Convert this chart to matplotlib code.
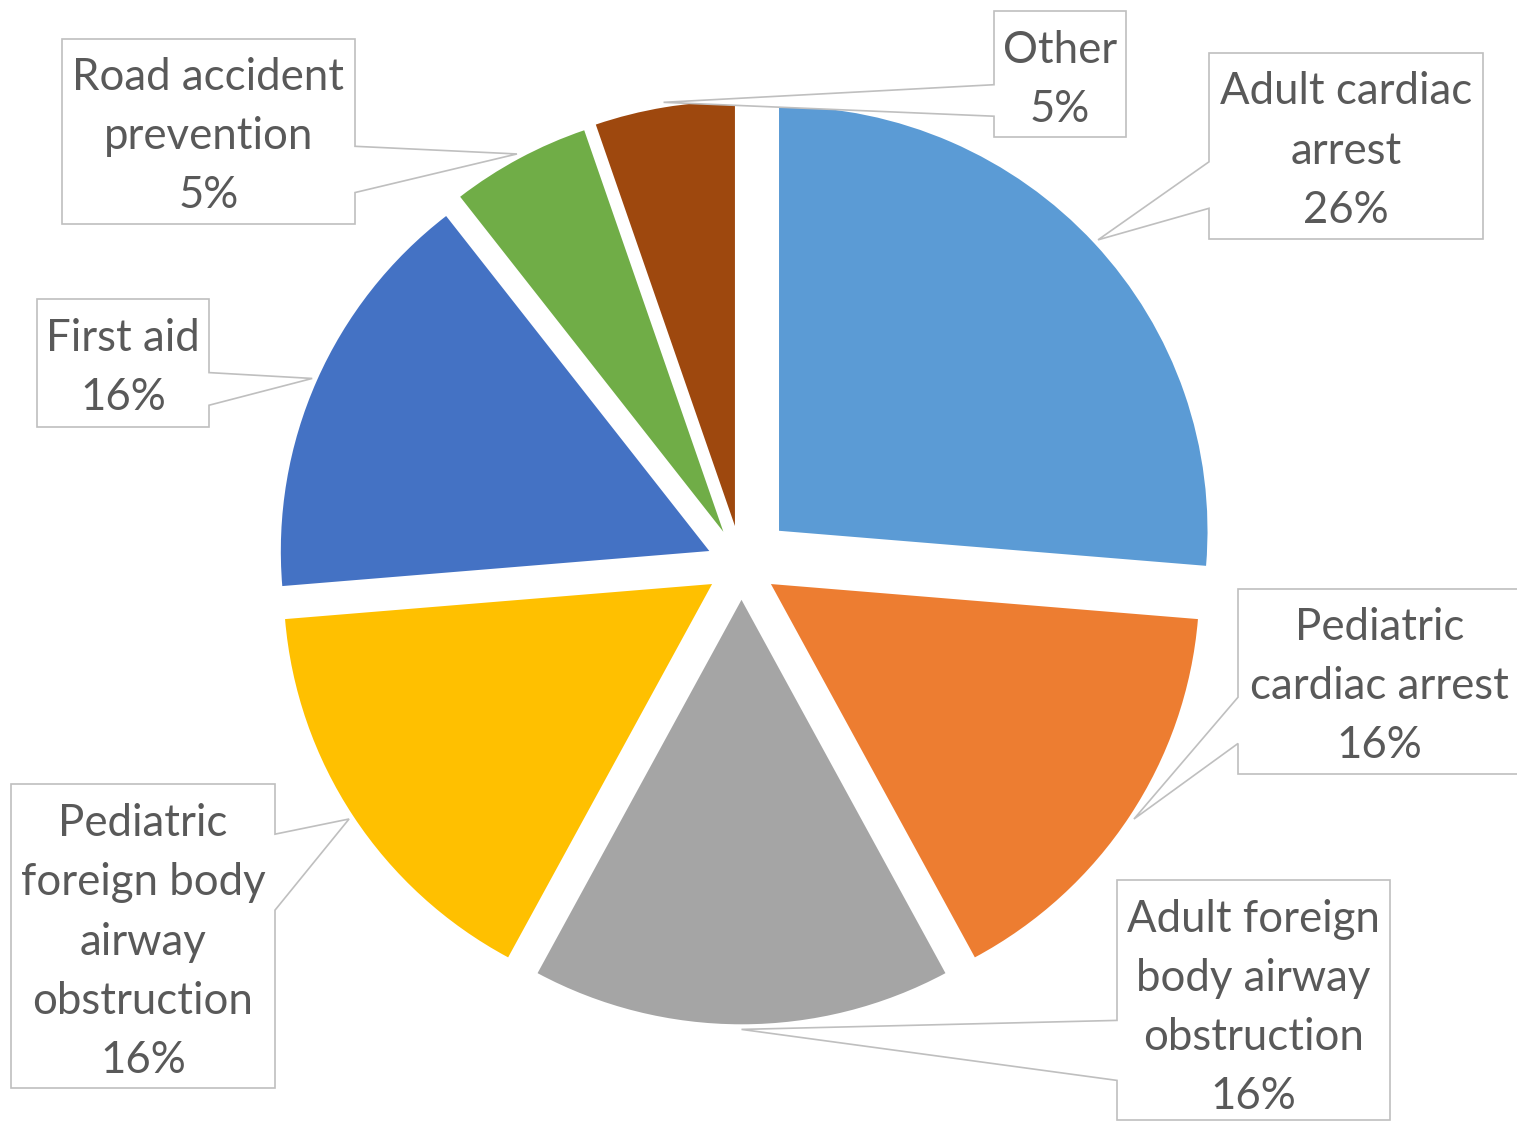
import matplotlib
matplotlib.use('Agg')
import matplotlib.pyplot as plt
import numpy as np
from matplotlib.patches import Polygon

# slice data (counts out of 19 responses)
labels = ['Adult cardiac\narrest', 'Pediatric\ncardiac arrest',
          'Adult foreign\nbody airway\nobstruction',
          'Pediatric\nforeign body\nairway\nobstruction',
          'First aid', 'Road accident\nprevention', 'Other']
counts = [5, 3, 3, 3, 3, 1, 1]
colors = ['#5B9BD5', '#ED7D31', '#A5A5A5', '#FFC000', '#4472C4', '#70AD47', '#9E480E']
explode = [0.119, 0.082, 0.082, 0.082, 0.082, 0.089, 0.093]

# label box layout in pixels (left, top, right, bottom), pointer side and base span
boxes_px = [(1209, 53, 1483, 239), (1238, 589, 1521, 774), (1117, 880, 1390, 1120),
            (11, 784, 275, 1088), (37, 299, 209, 427), (62, 39, 355, 224), (994, 11, 1126, 137)]
sides = ['left', 'left', 'left', 'right', 'right', 'right', 'left']
base_frac = [(0.585, 0.835), (0.585, 0.835), (0.585, 0.835), (0.165, 0.415),
             (0.575, 0.83), (0.58, 0.83), (0.585, 0.835)]
text_dy = [5, 5, 8, 6, 5, 5, 6]

W, H = 1517, 1121
CX, CY = 741.5, 565.0      # pie centre in pixels
SX, SY = 428.5, 424.5      # pixels per unit radius


def to_data(px, py):
    return ((px - CX) / SX, (CY - py) / SY)


fig = plt.figure(figsize=(W / 100, H / 100), dpi=100)
ax = fig.add_axes([0, 0, 1, 1])

wedges, _ = ax.pie(counts, colors=colors, explode=explode, startangle=90,
                   counterclock=False, radius=1, wedgeprops=dict(linewidth=0))
ax.set_aspect('auto')
ax.set_xlim(to_data(0, 0)[0], to_data(W, 0)[0])
ax.set_ylim(to_data(0, H)[1], to_data(0, 0)[1])
ax.axis('off')

total = sum(counts)
for w, lab, c, box, side, bf, dy in zip(wedges, labels, counts, boxes_px, sides, base_frac, text_dy):
    mid = np.deg2rad((w.theta1 + w.theta2) / 2)
    tip = (w.center[0] + 1.012 * w.r * np.cos(mid), w.center[1] + 1.012 * w.r * np.sin(mid))
    L, T, R, B = box
    h = B - T
    b1, b2 = T + bf[0] * h, T + bf[1] * h
    if side == 'left':
        pts = [to_data(L, T), to_data(R, T), to_data(R, B), to_data(L, B),
               to_data(L, b2), tip, to_data(L, b1)]
    else:
        pts = [to_data(L, T), to_data(R, T), to_data(R, b1), tip, to_data(R, b2),
               to_data(R, B), to_data(L, B)]
    ax.add_patch(Polygon(pts, closed=True, facecolor='white', edgecolor='#BFBFBF',
                         linewidth=1.2, zorder=3))
    tx, ty = to_data((L + R) / 2, (T + B) / 2 + dy)
    ax.text(tx, ty, f'{lab}\n{round(100 * c / total)}%', ha='center', va='center',
            multialignment='center', fontsize=31.5, color='#595959', family='Lato',
            linespacing=1.55, zorder=4)

plt.savefig('out.png', dpi=100)
